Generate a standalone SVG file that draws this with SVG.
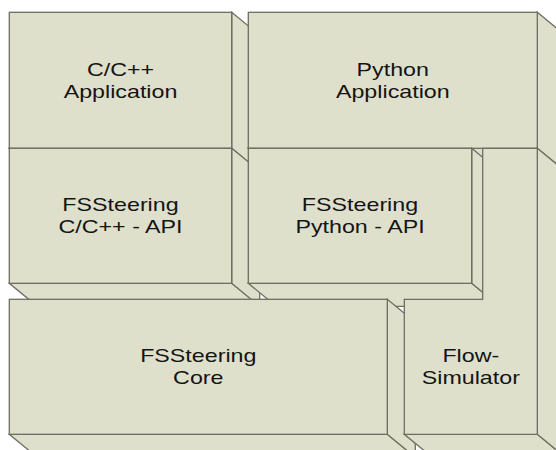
<svg xmlns="http://www.w3.org/2000/svg" width="556" height="450" viewBox="0 0 556 450">
<style>
.face{fill:#dfe0cc;stroke:#6e6e62;stroke-width:1.3;stroke-linejoin:miter}
.lbl{font-family:"Liberation Sans",Arial,sans-serif;font-size:18.6px;fill:#141414;text-anchor:middle}
</style>
<rect width="556" height="450" fill="#ffffff"/>
<g id="c-app">
<polygon class="face" points="9.3,148.3 231.7,148.3 259.7,171.3 37.3,171.3"/>
<polygon class="face" points="231.7,12.3 259.7,35.3 259.7,171.3 231.7,148.3"/>
<rect class="face" x="9.3" y="12.3" width="222.4" height="136"/>
<text class="lbl" transform="translate(120.5 0) scale(1.25 1)"><tspan x="0" y="76">C/C++</tspan><tspan x="0" y="98">Application</tspan></text>
</g>
<g id="python-app">
<polygon class="face" points="248.3,148.3 537.3,148.3 565.3,171.3 276.3,171.3"/>
<polygon class="face" points="537.3,12.3 565.3,35.3 565.3,171.3 537.3,148.3"/>
<rect class="face" x="248.3" y="12.3" width="289" height="136"/>
<text class="lbl" transform="translate(392.8 0) scale(1.25 1)"><tspan x="0" y="76">Python</tspan><tspan x="0" y="98">Application</tspan></text>
</g>
<g id="c-api">
<polygon class="face" points="9.3,283.3 231.7,283.3 259.7,306.3 37.3,306.3"/>
<polygon class="face" points="231.7,148.3 259.7,171.3 259.7,306.3 231.7,283.3"/>
<rect class="face" x="9.3" y="148.3" width="222.4" height="135"/>
<text class="lbl" transform="translate(120.5 0) scale(1.25 1)"><tspan x="0" y="211.3">FSSteering</tspan><tspan x="0" y="233.3">C/C++ - API</tspan></text>
</g>
<g id="python-api">
<polygon class="face" points="248.3,283.3 471.7,283.3 499.7,306.3 276.3,306.3"/>
<polygon class="face" points="471.7,148.3 499.7,171.3 499.7,306.3 471.7,283.3"/>
<rect class="face" x="248.3" y="148.3" width="223.4" height="135"/>
<text class="lbl" transform="translate(360 0) scale(1.25 1)"><tspan x="0" y="211.3">FSSteering</tspan><tspan x="0" y="233.3">Python - API</tspan></text>
</g>
<g id="core">
<polygon class="face" points="9.3,434.3 387.3,434.3 415.3,457.3 37.3,457.3"/>
<polygon class="face" points="387.3,299.3 415.3,322.3 415.3,457.3 387.3,434.3"/>
<rect class="face" x="9.3" y="299.3" width="378" height="135"/>
<text class="lbl" transform="translate(198.3 0) scale(1.25 1)"><tspan x="0" y="361.8">FSSteering</tspan><tspan x="0" y="384.3">Core</tspan></text>
</g>
<g id="flow-simulator">
<polygon class="face" points="404.3,434.3 537.3,434.3 565.3,457.3 432.3,457.3"/>
<polygon class="face" points="537.3,148.3 565.3,171.3 565.3,457.3 537.3,434.3"/>
<polygon class="face" points="482.7,148.3 537.3,148.3 537.3,434.3 404.3,434.3 404.3,299.3 482.7,299.3"/>
<text class="lbl" transform="translate(470.8 0) scale(1.25 1)"><tspan x="0" y="361.8">Flow-</tspan><tspan x="0" y="384.3">Simulator</tspan></text>
</g>
<g id="connectors"/>
</svg>
